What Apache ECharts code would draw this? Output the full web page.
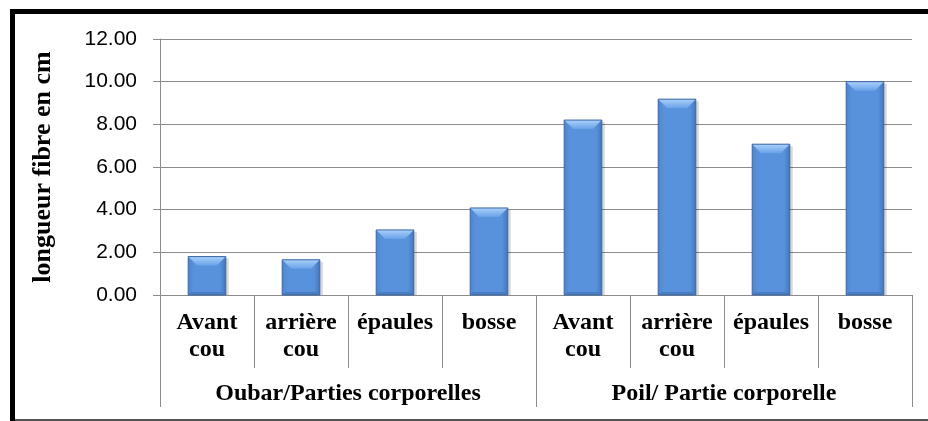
<!DOCTYPE html>
<html>
<head>
<meta charset="utf-8">
<script src="https://cdn.jsdelivr.net/npm/echarts@6/dist/echarts.min.js"></script>
<style>
  html, body { margin: 0; padding: 0; background: #fff; }
  #chart { width: 928px; height: 421px; }
</style>
</head>
<body>
<div id="chart"></div>
<script>
// data
const parts = ['Avant cou', 'arrière cou', 'épaules', 'bosse', 'Avant cou', 'arrière cou', 'épaules', 'bosse']
const groups = ['Oubar/Parties corporelles', 'Poil/ Partie corporelle']
const lengths = [1.80, 1.65, 3.05, 4.08, 8.20, 9.18, 7.07, 10.00]
const yTicks = [0, 2, 4, 6, 8, 10, 12]

const gridColor = '#8c8c8c'
const serif = '"Liberation Serif", "DejaVu Serif", serif'

const chart = echarts.init(document.getElementById('chart'))

// bevelled bar, like the office "bevel" shape
function renderBar(params, api) {
  const idx = api.value(0)
  const top = api.coord([idx, api.value(1)])
  const base = api.coord([idx, 0])
  const w = api.size([1, 0])[0] * 0.4
  const x0 = top[0] - w / 2
  const x1 = top[0] + w / 2
  const y0 = top[1]
  const y1 = base[1]
  const b = Math.min(9, (y1 - y0) / 2)
  const s = 3
  return {
    type: 'group',
    children: [
      {
        type: 'rect',
        shape: { x: x0 + 2, y: y0 + 2, width: w + 1, height: y1 - y0 - 2 },
        style: { fill: 'rgba(0,0,0,0.15)' }
      },
      {
        type: 'rect',
        shape: { x: x0, y: y0, width: w, height: y1 - y0 },
        style: {
          fill: new echarts.graphic.LinearGradient(0, 0, 1, 0, [
            { offset: 0, color: '#4f86cc' },
            { offset: 0.15, color: '#5892dc' },
            { offset: 0.85, color: '#5892dc' },
            { offset: 1, color: '#4476b8' }
          ])
        }
      },
      {
        // bottom face
        type: 'polygon',
        shape: { points: [[x0, y1], [x0 + s, y1 - s], [x1 - s, y1 - s], [x1, y1]] },
        style: { fill: '#4a7dbf' }
      },
      {
        // top face
        type: 'polygon',
        shape: { points: [[x0, y0], [x1, y0], [x1 - b, y0 + b], [x0 + b, y0 + b]] },
        style: {
          fill: new echarts.graphic.LinearGradient(0, 0, 0, 1, [
            { offset: 0, color: '#a9d0fa' },
            { offset: 1, color: '#6aa2e8' }
          ])
        }
      },
      {
        type: 'rect',
        shape: { x: x0, y: y0, width: w, height: y1 - y0 },
        style: { fill: 'none', stroke: '#3a66a4', lineWidth: 1 }
      }
    ]
  }
}

const option = {
  animation: false,
  grid: { left: 160, right: 16, top: 39, bottom: 126 },
  xAxis: [
    {
      type: 'category',
      data: parts,
      boundaryGap: true,
      axisLine: { lineStyle: { color: gridColor, width: 1 } },
      axisTick: { show: true, interval: 0, length: 73, lineStyle: { color: gridColor } },
      axisLabel: {
        interval: 0,
        margin: 14,
        color: '#000',
        fontFamily: serif,
        fontWeight: 'bold',
        fontSize: 24,
        lineHeight: 27,
        verticalAlign: 'top',
        formatter: v => v.replace(' ', '\n')
      }
    },
    {
      type: 'category',
      data: groups,
      position: 'bottom',
      boundaryGap: true,
      axisLine: { show: false },
      axisTick: { show: true, interval: 0, length: 112, lineStyle: { color: gridColor } },
      axisLabel: {
        interval: 0,
        margin: 87,
        color: '#000',
        fontFamily: serif,
        fontWeight: 'bold',
        fontSize: 24
      }
    }
  ],
  yAxis: {
    type: 'value',
    min: 0,
    max: 12,
    interval: 2,
    name: 'longueur fibre en cm',
    nameLocation: 'middle',
    nameGap: 104,
    nameRotate: 90,
    nameTextStyle: { color: '#000', fontFamily: serif, fontWeight: 'bold', fontSize: 26 },
    axisLine: { show: true, lineStyle: { color: gridColor, width: 1 } },
    axisTick: { show: true, length: 7, lineStyle: { color: gridColor } },
    axisLabel: {
      margin: 23,
      color: '#000',
      fontFamily: '"Liberation Sans", Arial, sans-serif',
      fontSize: 21,
      formatter: v => v.toFixed(2)
    },
    splitLine: { show: true, lineStyle: { color: gridColor, width: 1 } }
  },
  series: [
    {
      type: 'custom',
      xAxisIndex: 0,
      renderItem: renderBar,
      encode: { x: 0, y: 1 },
      data: lengths.map((v, i) => [i, v])
    }
  ],
  graphic: [
    { type: 'line', shape: { x1: 10, y1: 11.5, x2: 928, y2: 11.5 }, style: { stroke: '#000', lineWidth: 5 } },
    { type: 'line', shape: { x1: 12.5, y1: 9, x2: 12.5, y2: 421 }, style: { stroke: '#000', lineWidth: 5 } },
    { type: 'line', shape: { x1: 15, y1: 420, x2: 928, y2: 420 }, style: { stroke: '#555', lineWidth: 2 } }
  ]
}

chart.setOption(option)
</script>
</body>
</html>
